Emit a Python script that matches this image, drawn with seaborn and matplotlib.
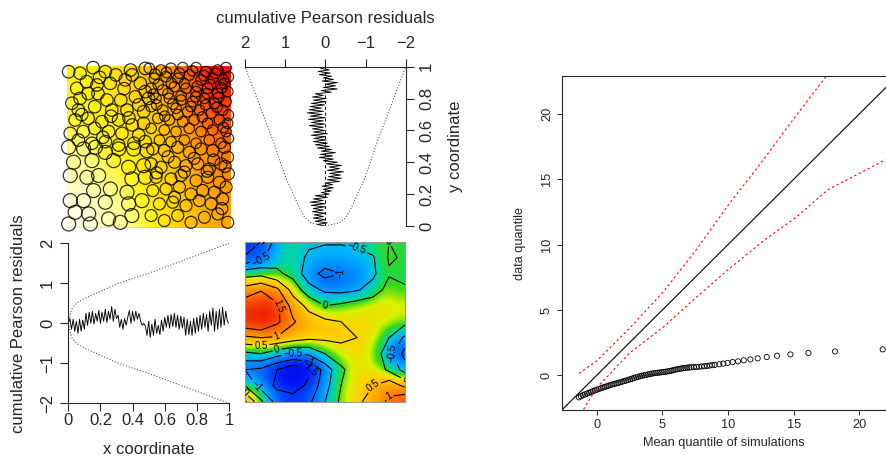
import numpy as np
import pandas as pd
import seaborn as sns
import matplotlib.pyplot as plt
from matplotlib.colors import LinearSegmentedColormap

# ---------------- data ----------------
# point pattern (unit square), read off the picture region by region
ul_x = [0.01, 0.08, 0.16, 0.235, 0.30, 0.39, 0.40, 0.48, 0.06, 0.12, 0.184, 0.265, 0.357, 0.45, 0.48,
        0.03, 0.08, 0.13, 0.19, 0.245, 0.33, 0.42, 0.50, 0.07, 0.17, 0.275, 0.368, 0.47,
        0.05, 0.13, 0.214, 0.317, 0.40, 0.47, 0.02, 0.10, 0.17, 0.255, 0.337, 0.44,
        0.07, 0.153, 0.235, 0.317, 0.41, 0.48,
        0.2, 0.35, 0.44, 0.27, 0.09, 0.22, 0.38]
ul_y = [0.965, 0.955, 0.99, 0.965, 0.945, 0.975, 0.945, 0.985, 0.862, 0.903, 0.883, 0.893, 0.914, 0.893, 0.842,
        0.77, 0.80, 0.83, 0.83, 0.79, 0.79, 0.81, 0.80, 0.728, 0.749, 0.728, 0.728, 0.718,
        0.667, 0.677, 0.656, 0.667, 0.636, 0.646, 0.584, 0.595, 0.615, 0.595, 0.584, 0.574,
        0.543, 0.523, 0.533, 0.512, 0.523, 0.533,
        0.93, 0.86, 0.76, 0.69, 0.70, 0.56, 0.68]
ur_x = [0.505, 0.577, 0.638, 0.71, 0.792, 0.853, 0.925, 0.976, 0.99,
        0.536, 0.608, 0.68, 0.75, 0.822, 0.894, 0.966,
        0.516, 0.587, 0.659, 0.73, 0.792, 0.863, 0.925, 0.986,
        0.546, 0.628, 0.70, 0.771, 0.843, 0.904, 0.976,
        0.516, 0.587, 0.669, 0.74, 0.812, 0.884, 0.955, 0.99,
        0.557, 0.628, 0.71, 0.78, 0.863, 0.935, 0.985,
        0.516, 0.597, 0.669, 0.75, 0.822, 0.894, 0.976,
        0.567, 0.638, 0.72, 0.792, 0.873, 0.945, 0.99,
        0.54, 0.61, 0.69, 0.77, 0.84, 0.91, 0.96, 0.56, 0.64, 0.72, 0.80, 0.88, 0.95,
        0.53, 0.62, 0.70, 0.79, 0.86, 0.93, 0.55, 0.65, 0.76, 0.85, 0.92, 0.60, 0.68, 0.83, 0.96]
ur_y = [0.986, 0.975, 0.986, 0.99, 0.99, 0.965, 0.975, 0.99, 0.934,
        0.924, 0.934, 0.924, 0.944, 0.914, 0.924, 0.893,
        0.862, 0.852, 0.872, 0.862, 0.842, 0.862, 0.831, 0.842,
        0.80, 0.80, 0.79, 0.78, 0.80, 0.77, 0.78,
        0.749, 0.728, 0.739, 0.718, 0.728, 0.708, 0.728, 0.697,
        0.677, 0.667, 0.656, 0.667, 0.646, 0.667, 0.646,
        0.615, 0.605, 0.595, 0.615, 0.595, 0.605, 0.595,
        0.543, 0.533, 0.543, 0.523, 0.543, 0.523, 0.553,
        0.95, 0.96, 0.955, 0.97, 0.94, 0.955, 0.915, 0.885, 0.895, 0.89, 0.875, 0.885, 0.865,
        0.825, 0.83, 0.815, 0.81, 0.83, 0.805, 0.76, 0.765, 0.75, 0.76, 0.745, 0.69, 0.70, 0.685, 0.62]
ll_x = [0.01, 0.102, 0.174, 0.235, 0.317, 0.409, 0.49, 0.04, 0.153, 0.286, 0.378, 0.47,
        0.02, 0.122, 0.194, 0.398, 0.48, 0.163, 0.266, 0.368, 0.02, 0.102, 0.235, 0.378, 0.46,
        0.05, 0.133, 0.01, 0.143, 0.255, 0.327, 0.398]
ll_y = [0.498, 0.488, 0.498, 0.467, 0.488, 0.488, 0.478, 0.406, 0.416, 0.416, 0.375, 0.385,
        0.324, 0.313, 0.324, 0.303, 0.313, 0.231, 0.241, 0.221, 0.169, 0.169, 0.159, 0.149, 0.169,
        0.097, 0.087, 0.025, 0.025, 0.056, 0.035, 0.077]
lr_x = [0.526, 0.597, 0.679, 0.751, 0.822, 0.894, 0.966, 0.985,
        0.516, 0.577, 0.659, 0.73, 0.802, 0.873, 0.945,
        0.546, 0.638, 0.70, 0.792, 0.863, 0.935, 0.99,
        0.526, 0.608, 0.69, 0.761, 0.833, 0.904, 0.976,
        0.567, 0.649, 0.73, 0.812, 0.884, 0.955,
        0.516, 0.597, 0.679, 0.761, 0.843, 0.925, 0.986,
        0.62, 0.78, 0.90, 0.55, 0.72, 0.86, 0.97, 0.66, 0.95]
lr_y = [0.488, 0.478, 0.498, 0.467, 0.488, 0.478, 0.498, 0.437,
        0.396, 0.375, 0.406, 0.385, 0.396, 0.365, 0.396,
        0.313, 0.303, 0.324, 0.293, 0.313, 0.282, 0.334,
        0.231, 0.241, 0.252, 0.21, 0.231, 0.221, 0.252,
        0.149, 0.159, 0.138, 0.169, 0.149, 0.179,
        0.077, 0.046, 0.077, 0.035, 0.066, 0.087, 0.035,
        0.44, 0.43, 0.42, 0.34, 0.345, 0.35, 0.38, 0.19, 0.12]

# fitted intensity (rows: y = 0 .. 1, cols: x = 0 .. 1), relative scale
intensity = [[0.00, 0.10, 0.25, 0.40, 0.55, 0.65],
             [0.08, 0.20, 0.32, 0.45, 0.60, 0.70],
             [0.18, 0.30, 0.38, 0.50, 0.65, 0.75],
             [0.28, 0.35, 0.42, 0.55, 0.70, 0.82],
             [0.33, 0.38, 0.45, 0.60, 0.78, 0.90],
             [0.35, 0.40, 0.50, 0.65, 0.85, 1.00]]

# lurking variable plots: cumulative Pearson residuals
xlurk = [0.0, 0.12, -0.15, 0.1, -0.2, 0.05, -0.25, 0.1, -0.2, 0.08, -0.15,
         0.25, -0.05, 0.28, 0.0, 0.3, -0.02, 0.25, 0.05,
         0.32, 0.0, 0.28, 0.05, 0.35, 0.02, 0.3, 0.1, 0.42, 0.05, 0.35, 0.12,
         0.2, -0.1, 0.1, -0.15, 0.12, -0.05, 0.15,
         0.32, 0.0, 0.3, 0.05, 0.3, 0.1, 0.25,
         0.05, -0.05, 0.0, -0.08,
         -0.3, 0.05, -0.35, -0.02, -0.3, 0.1, -0.25, -0.05, -0.28, 0.08, -0.2, 0.15,
         -0.1, 0.2, -0.12, 0.22, -0.08, 0.25, -0.1, 0.2, -0.15, 0.18, -0.12, 0.15,
         -0.3, 0.1, -0.28, 0.05, -0.3, 0.12, -0.25, 0.15,
         -0.2, 0.2, -0.15, 0.25, -0.1, 0.22, -0.2, 0.3, -0.05, 0.38,
         -0.2, 0.3, -0.15, 0.35, -0.1, 0.4, -0.05, 0.3, 0.05, 0.0]
ylurk = [0.0, 0.2, -0.05, 0.25, 0.0, 0.3, 0.05, 0.28, 0.0, 0.32, 0.05, 0.3, 0.02,
         0.35, 0.0, 0.38, 0.05, 0.3, -0.05, 0.25, -0.1,
         0.1, -0.15, 0.05, -0.2, 0.08, -0.18, 0.0,
         -0.35, -0.05, -0.4, -0.08, -0.38, -0.1, -0.45, -0.05, -0.35, -0.1, -0.4, -0.02, -0.3, 0.05,
         -0.2, 0.15, -0.18, 0.12, -0.25, 0.1, -0.15, 0.2, -0.1,
         0.25, -0.05, 0.3, -0.02, 0.28, 0.0, 0.35, -0.05, 0.3, 0.02, 0.32, 0.05,
         0.4, 0.02, 0.35, 0.05, 0.42, 0.0, 0.38, 0.08, 0.45, 0.05, 0.4, 0.1, 0.38, 0.02, 0.35, 0.0,
         0.3, -0.02, 0.32, 0.05, 0.25,
         -0.15, 0.1, -0.3, 0.05, -0.25, 0.0, -0.3, 0.08, -0.2, 0.05,
         -0.15, 0.15, -0.12, 0.18, -0.1, 0.12, 0.0]
env_pos = [0.0, 0.02, 0.05, 0.1, 0.2, 0.3, 0.4, 0.5, 0.6, 0.7, 0.8, 0.9, 1.0]
env_sd2 = [0.0, 0.35, 0.5, 0.62, 0.8, 0.98, 1.12, 1.25, 1.4, 1.55, 1.7, 1.85, 2.0]

# smoothed Pearson residual field (rows: y = 0 .. 1, cols: x = 0 .. 1)
smooth = [[0.6, -0.4, -1.2, -1.3, -1.1, -0.5, 0.1, 0.4, 0.7, 1.1, 1.5],
          [-0.5, -1.2, -1.6, -1.7, -1.4, -0.7, 0.0, 0.35, 0.5, 0.8, 0.4],
          [-1.0, -1.1, -1.5, -1.9, -1.6, -0.8, -0.1, 0.3, 0.35, -0.1, -0.7],
          [-0.1, 0.0, -0.3, -0.5, -0.4, 0.0, 0.3, 0.5, 0.3, -0.3, -1.2],
          [0.9, 1.0, 0.95, 0.75, 0.6, 0.6, 0.6, 0.5, 0.45, 0.0, -0.6],
          [1.9, 2.05, 1.6, 1.05, 0.75, 0.6, 0.5, 0.45, 0.4, 0.3, 0.15],
          [1.8, 2.0, 1.6, 0.8, 0.35, 0.0, 0.1, 0.25, 0.35, 0.4, 0.3],
          [1.2, 1.45, 1.1, 0.3, -0.3, -0.6, -0.65, -0.55, -0.3, 0.2, 0.05],
          [0.3, 0.35, 0.1, -0.15, -0.8, -1.15, -1.0, -0.85, -0.6, -0.05, -0.1],
          [-0.95, -0.6, -0.2, -0.25, -0.6, -0.7, -0.7, -0.65, -0.55, 0.05, -0.05],
          [-1.3, -1.0, -0.3, -0.2, -0.4, -0.45, -0.45, -0.4, -0.2, 0.0, -0.05]]
contour_levels = [-1.5, -1, -0.5, 0, 0.5, 1, 1.5]

# Q-Q plot of residuals against simulations
qq_sim = [-1.35, -1.2, -1.05, -0.9, -0.75, -0.6, -0.45, -0.3, -0.15, 0.0, 0.15, 0.3, 0.45, 0.6, 0.75,
          0.9, 1.05, 1.2, 1.35, 1.5, 1.65, 1.8, 1.95, 2.1, 2.25, 2.4, 2.55, 2.7, 2.85, 3.0,
          3.15, 3.3, 3.45, 3.6, 3.75, 3.9, 4.05, 4.2, 4.35, 4.5, 4.65, 4.8, 4.95, 5.1, 5.25,
          5.4, 5.55, 5.7, 5.85, 6.0, 6.15, 6.3, 6.45, 6.6, 6.75, 6.9, 7.05, 7.2,
          7.4, 7.6, 7.8, 8.0, 8.2, 8.4, 8.6, 8.8, 9.0,
          9.34, 9.64, 9.97, 10.35, 10.76, 11.2, 11.7, 12.26, 12.95, 13.73, 14.75, 16.12, 18.15, 21.78]
qq_obs = [-1.68, -1.6, -1.52, -1.46, -1.4, -1.34, -1.28, -1.22, -1.16, -1.1, -1.04, -0.99, -0.94, -0.89, -0.84,
          -0.79, -0.74, -0.69, -0.65, -0.61, -0.57, -0.53, -0.48, -0.44, -0.39, -0.34, -0.3, -0.25, -0.2, -0.15,
          -0.11, -0.07, -0.03, 0.0, 0.03, 0.07, 0.1, 0.13, 0.16, 0.18, 0.2, 0.22, 0.24, 0.26, 0.28,
          0.3, 0.33, 0.36, 0.4, 0.44, 0.47, 0.5, 0.53, 0.55, 0.57, 0.59, 0.6, 0.62,
          0.63, 0.65, 0.66, 0.68, 0.7, 0.72, 0.75, 0.78, 0.8,
          0.85, 0.9, 0.95, 1.02, 1.07, 1.15, 1.22, 1.3, 1.4, 1.5, 1.6, 1.71, 1.83, 1.99]
env_hi_x = [-1.35, 0.0, 2.5, 5.08, 7.5, 10.15, 12.7, 15.2, 17.5]
env_hi_y = [0.15, 1.1, 3.6, 6.4, 9.5, 13.2, 16.5, 19.9, 22.9]
env_lo_x = [-1.0, 0.0, 2.5, 5.08, 7.5, 10.15, 12.7, 15.2, 17.6, 22.0]
env_lo_y = [-2.6, -0.95, 1.7, 3.7, 5.9, 8.2, 10.3, 12.1, 14.2, 16.5]

# ---------------- style ----------------
sns.set_style("ticks")
plt.rcParams['font.family'] = ['Liberation Sans', 'DejaVu Sans']
plt.rcParams['axes.linewidth'] = 0.8

heat = LinearSegmentedColormap.from_list("heat", [
    (0.0, (1, 1, 0.88)), (0.2, (1, 1, 0.55)), (0.35, (1, 0.95, 0.05)), (0.5, (1, 0.82, 0)),
    (0.7, (1, 0.6, 0)), (0.85, (1, 0.35, 0)), (1.0, (1, 0.05, 0))])
vmin, vmax = -2.0, 2.1
resid_nodes = [(-2.0, (0.0, 0.0, 0.75)), (-1.5, (0.0, 0.1, 1.0)), (-1.0, (0.0, 0.4, 1.0)),
               (-0.5, (0.0, 0.7, 1.0)), (-0.2, (0.0, 0.85, 0.6)), (0.0, (0.2, 0.85, 0.1)),
               (0.25, (0.85, 0.95, 0.0)), (0.5, (1.0, 0.82, 0.0)), (1.0, (1.0, 0.6, 0.0)),
               (1.5, (1.0, 0.35, 0.0)), (2.1, (0.9, 0.05, 0.0))]
rainbow = LinearSegmentedColormap.from_list(
    "resid", [((v - vmin) / (vmax - vmin), c) for v, c in resid_nodes])

W, H = 886, 462
fig = plt.figure(figsize=(W / 100, H / 100), dpi=100)


def rect(x0, y0, x1, y1):
    return [x0 / W, 1 - y1 / H, (x1 - x0) / W, (y1 - y0) / H]


def minus(v):
    return ("%g" % v).replace("-", "\u2212")


FS = 12
LW_LURK = 0.65

# --- top left: intensity image with point pattern ---
ax = fig.add_axes(rect(67, 66, 230, 228))
ax.imshow(np.array(intensity), extent=(0, 1, 0, 1), origin="lower", cmap=heat,
          vmin=0, vmax=1, interpolation="bilinear", aspect="auto")
for xs, ys, px in [(ul_x, ul_y, 12.5), (ur_x, ur_y, 10.5), (ll_x, ll_y, 14), (lr_x, lr_y, 12)]:
    sns.scatterplot(x=xs, y=ys, s=(px * 0.72) ** 2, marker="o", facecolors="none",
                    edgecolor="black", linewidth=0.9, alpha=0.8, ax=ax, legend=False)
for c in ax.collections:
    c.set_clip_on(False)
ax.axhline(0, color="0.3", lw=0.9)
ax.set_xlim(0, 1)
ax.set_ylim(0, 1)
ax.axis("off")

# --- top right: lurking plot against y ---
ygrid = np.linspace(0, 1, len(ylurk))
ax = fig.add_axes(rect(245, 66.7, 405.7, 226))
ax.axvline(0, color="black", lw=0.7, ls=(0, (3, 3)))
sns.lineplot(x=ylurk, y=ygrid, sort=False, estimator=None, color="black", lw=LW_LURK, ax=ax)
sns.lineplot(x=env_sd2, y=env_pos, sort=False, estimator=None, color="0.35", lw=0.8, ls=":", ax=ax)
sns.lineplot(x=[-v for v in env_sd2], y=env_pos, sort=False, estimator=None, color="0.35", lw=0.8,
             ls=":", ax=ax)
ax.set_xlim(2, -2)
ax.set_ylim(0, 1)
for s in ["left", "bottom"]:
    ax.spines[s].set_visible(False)
ax.xaxis.set_ticks_position("top")
ax.xaxis.set_label_position("top")
ax.yaxis.set_ticks_position("right")
ax.yaxis.set_label_position("right")
ax.set_xticks([2, 1, 0, -1, -2], [minus(v) for v in [2, 1, 0, -1, -2]])
ax.set_yticks([0, 0.2, 0.4, 0.6, 0.8, 1], ["0", "0.2", "0.4", "0.6", "0.8", "1"])
ax.tick_params(axis="x", labelsize=FS, length=5.5, pad=6, width=0.8)
ax.tick_params(axis="y", labelsize=FS, length=5.5, pad=4, width=0.8)
for lab in ax.get_yticklabels():
    lab.set_rotation(90)
    lab.set_va("center")
ax.set_xlabel("cumulative Pearson residuals", fontsize=FS, labelpad=9)
ax.set_ylabel("y coordinate", fontsize=FS, labelpad=10)

# --- bottom left: lurking plot against x ---
xgrid = np.linspace(0, 1, len(xlurk))
ax = fig.add_axes(rect(68.3, 243.3, 229, 403.3))
sns.lineplot(x=xgrid, y=xlurk, sort=False, estimator=None, color="black", lw=LW_LURK, ax=ax)
sns.lineplot(x=env_pos, y=env_sd2, sort=False, estimator=None, color="0.35", lw=0.8, ls=":", ax=ax)
sns.lineplot(x=env_pos, y=[-v for v in env_sd2], sort=False, estimator=None, color="0.35", lw=0.8,
             ls=":", ax=ax)
ax.set_xlim(0, 1)
ax.set_ylim(-2, 2)
for s in ["top", "right"]:
    ax.spines[s].set_visible(False)
ax.set_xticks([0, 0.2, 0.4, 0.6, 0.8, 1], ["0", "0.2", "0.4", "0.6", "0.8", "1"])
ax.set_yticks([-2, -1, 0, 1, 2], [minus(v) for v in [-2, -1, 0, 1, 2]])
ax.tick_params(axis="x", labelsize=FS, length=5.5, pad=1.5, width=0.8)
ax.tick_params(axis="y", labelsize=FS, length=5.5, pad=4, width=0.8)
for lab in ax.get_yticklabels():
    lab.set_rotation(90)
    lab.set_va("center")
ax.set_xlabel("x coordinate", fontsize=FS, labelpad=10)
ax.set_ylabel("cumulative Pearson residuals", fontsize=FS, labelpad=10)

# --- bottom right: smoothed residual field ---
ax = fig.add_axes(rect(245, 241.7, 405, 401.7))
field = np.array(smooth)
gx = np.linspace(0, 1, field.shape[1])
gy = np.linspace(0, 1, field.shape[0])
ax.imshow(field, extent=(0, 1, 0, 1), origin="lower", cmap=rainbow, vmin=vmin, vmax=vmax,
          interpolation="bicubic", aspect="auto")
cs = ax.contour(gx, gy, field, levels=contour_levels, colors="black", linewidths=0.8,
                linestyles="solid")
ax.clabel(cs, fontsize=7, fmt=minus, inline=True, inline_spacing=2)
ax.set_xlim(0, 1)
ax.set_ylim(0, 1)
ax.set_xticks([])
ax.set_yticks([])
for s in ax.spines.values():
    s.set_color("0.6")
    s.set_linewidth(0.8)

# --- right: Q-Q plot ---
QFS = 9.2
ax = fig.add_axes(rect(562, 76, 886, 410))
ax.axline((0, 0), slope=1, color="black", lw=0.8)
sns.lineplot(x=env_hi_x, y=env_hi_y, sort=False, estimator=None, color="red", lw=0.8,
             ls=(0, (2, 2.5)), ax=ax)
sns.lineplot(x=env_lo_x, y=env_lo_y, sort=False, estimator=None, color="red", lw=0.8,
             ls=(0, (2, 2.5)), ax=ax)
sns.scatterplot(x=qq_sim, y=qq_obs, s=14, marker="o", facecolors="none", edgecolor="black",
                linewidth=0.6, ax=ax, legend=False)
ax.set_xlim(-2.64, 22.03)
ax.set_ylim(-2.65, 22.9)
ax.spines["right"].set_visible(False)
ax.set_xticks([0, 5, 10, 15, 20])
ax.set_yticks([0, 5, 10, 15, 20])
ax.tick_params(labelsize=QFS, length=3.5, width=0.7, pad=3)
for lab in ax.get_yticklabels():
    lab.set_rotation(90)
    lab.set_va("center")
ax.set_xlabel("Mean quantile of simulations", fontsize=QFS, labelpad=4)
ax.set_ylabel("data quantile", fontsize=QFS, labelpad=11)

fig.savefig("out.png", dpi=100)
